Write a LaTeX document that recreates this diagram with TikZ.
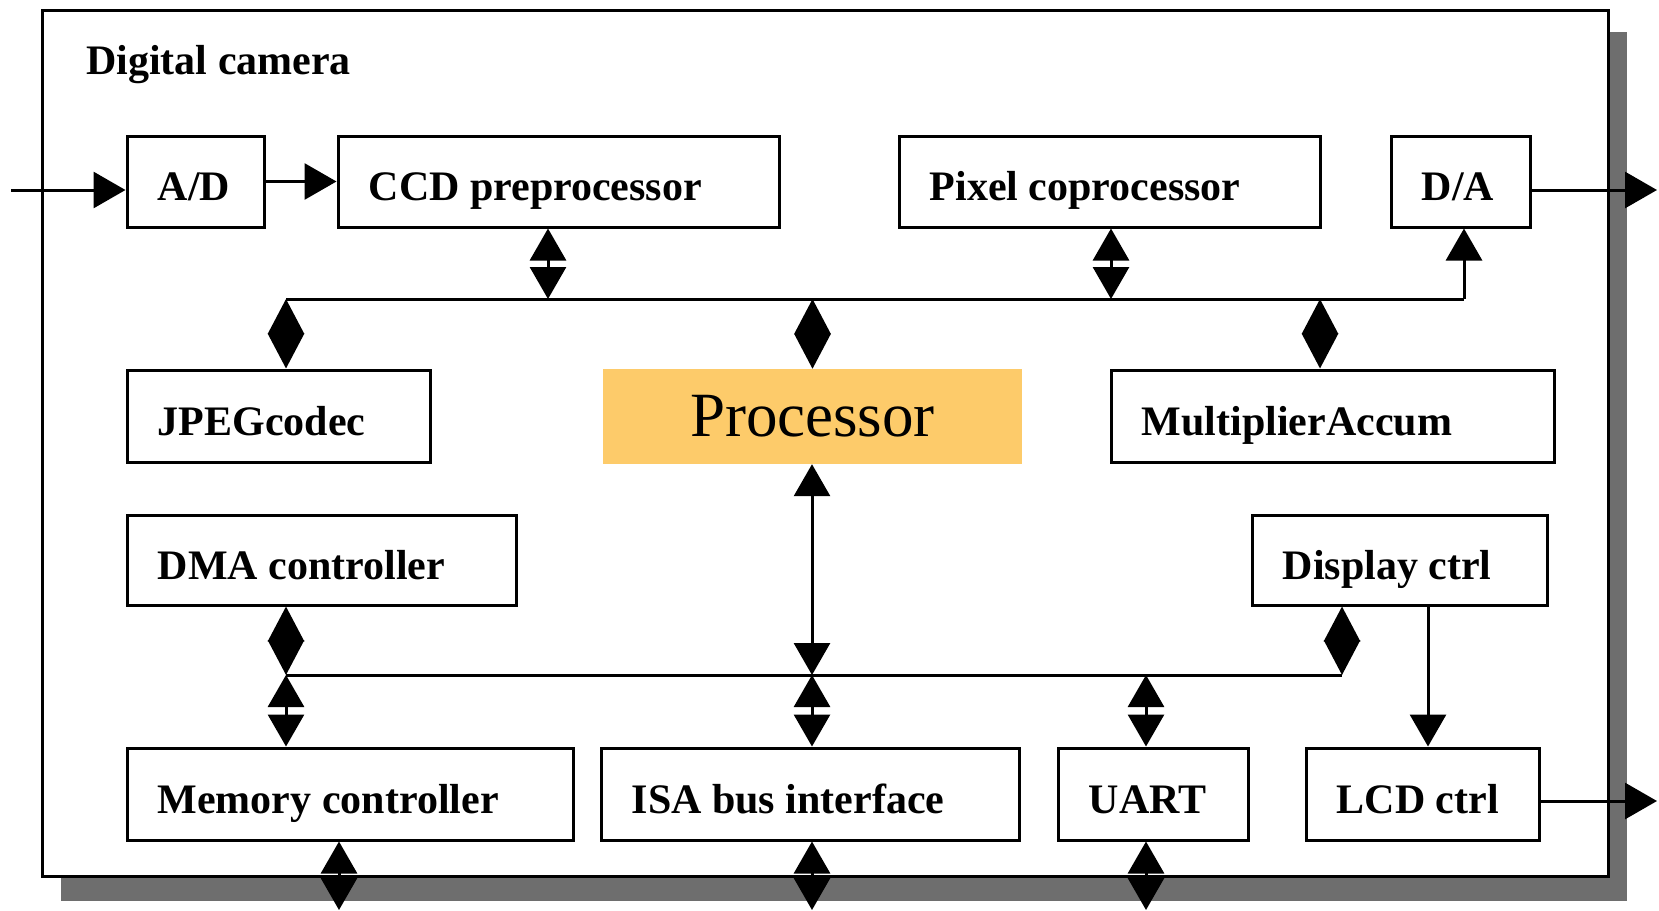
\documentclass[tikz,border=0pt]{standalone}
\usepackage{fontspec}
\setmainfont{Liberation Serif}
\usetikzlibrary{arrows.meta,calc}
\definecolor{procfill}{RGB}{253,203,106}
\definecolor{shadowgray}{RGB}{110,110,110}
\begin{document}
\begin{tikzpicture}[x=1pt,y=-1pt,
  box/.style={draw, line width=3pt, rectangle, inner sep=0pt},
  lbl/.style={anchor=base west, inner sep=0pt, font=\fontsize{42}{48}\selectfont\bfseries},
  wire/.style={line width=3pt},
  dbl/.style={wire, {Triangle[length=32pt,width=36pt]}-{Triangle[length=32pt,width=36pt]}},
  dia/.style={wire, {Triangle[length=35pt,width=36pt]}-{Triangle[length=35pt,width=36pt]}},
  one/.style={wire, -{Triangle[length=32pt,width=36pt]}},
]
\useasboundingbox (0,0) rectangle (1659,910);
% frame with drop shadow
\fill[shadowgray] (61,32) rectangle (1627,901);
\draw[line width=3pt, fill=white] (42,10) rectangle (1608,876);
\node[lbl] (title) at (86,74) {Digital camera};

% boxes
\node[box, minimum width=137pt, minimum height=91pt] (ad)   at (195.5,181.5) {};
\node[box, minimum width=441pt, minimum height=91pt] (ccd)  at (558.5,181.5) {};
\node[box, minimum width=421pt, minimum height=91pt] (pix)  at (1109.5,181.5) {};
\node[box, minimum width=139pt, minimum height=91pt] (da)   at (1460.5,181.5) {};
\node[box, minimum width=303pt, minimum height=92pt] (jpeg) at (278.5,416) {};
\node[fill=procfill, inner sep=0pt, minimum width=419pt, minimum height=95pt,
      font=\fontsize{63}{70}\selectfont] (proc) at (812.5,416.5) {Processor};
\node[box, minimum width=443pt, minimum height=92pt] (ma)   at (1332.5,416) {};
\node[box, minimum width=389pt, minimum height=90pt] (dma)  at (321.5,560) {};
\node[box, minimum width=295pt, minimum height=90pt] (disp) at (1399.5,560) {};
\node[box, minimum width=446pt, minimum height=92pt] (mem)  at (350,794) {};
\node[box, minimum width=418pt, minimum height=92pt] (isa)  at (810,794) {};
\node[box, minimum width=190pt, minimum height=92pt] (uart) at (1153,794) {};
\node[box, minimum width=233pt, minimum height=92pt] (lcd)  at (1422.5,794) {};

% labels
\node[lbl] (tad)   at ([shift={(32,19)}]ad.west)   {A/D};
\node[lbl] (tccd)  at ([shift={(32,19)}]ccd.west)  {CCD preprocessor};
\node[lbl] (tpix)  at ([shift={(32,19)}]pix.west)  {Pixel coprocessor};
\node[lbl] (tda)   at ([shift={(32,19)}]da.west)   {D/A};
\node[lbl] (tjpeg) at ([shift={(32,19)}]jpeg.west) {JPEGcodec};
\node[lbl] (tma)   at ([shift={(32,19)}]ma.west)   {MultiplierAccum};
\node[lbl] (tdma)  at ([shift={(32,19)}]dma.west)  {DMA controller};
\node[lbl] (tdisp) at ([shift={(32,19)}]disp.west) {Display ctrl};
\node[lbl] (tmem)  at ([shift={(32,19)}]mem.west)  {Memory controller};
\node[lbl] (tisa)  at ([shift={(32,19)}]isa.west)  {ISA bus interface};
\node[lbl] (tuart) at ([shift={(32,19)}]uart.west) {UART};
\node[lbl] (tlcd)  at ([shift={(32,19)}]lcd.west)  {LCD ctrl};

% external in/out
\coordinate (in) at (11,190);
\draw[one] (in) -- (in -| ad.west);
\draw[one] (ad.east) -- (ccd.west);
\coordinate (o1) at (1657,190);
\draw[one] (o1 -| da.east) -- (o1);
\coordinate (o2) at (1657,801);
\draw[one] (o2 -| lcd.east) -- (o2);

% upper bus
\coordinate (bl) at (286,299);
\coordinate (br) at (1464,299);
\draw[wire] (bl) -- (br);
\draw[one] (br) -- (br |- da.south);
\draw[dia] (bl) -- (bl |- jpeg.north);
\coordinate (kccd) at (548,299);
\draw[dbl] (kccd |- ccd.south) -- (kccd);
\coordinate (kpix) at (1111,299);
\draw[dbl] (kpix |- pix.south) -- (kpix);
\draw[dia] (proc.north |- bl) -- (proc.north);
\coordinate (kma) at (1320,299);
\draw[dia] (kma) -- (kma |- ma.north);

% lower bus
\coordinate (ll) at (286,675);
\coordinate (lr) at (1342,675);
\draw[wire] (ll) -- (lr);
\draw[dia] (ll |- dma.south) -- (ll);
\draw[dbl] (ll) -- (ll |- mem.north);
\draw[dia] (lr |- disp.south) -- (lr);
\coordinate (kp) at (812,675);
\draw[dbl] (kp |- proc.south) -- (kp);
\draw[dbl] (kp) -- (kp |- isa.north);
\coordinate (ku) at (1146,675);
\draw[dbl] (ku) -- (ku |- uart.north);
\coordinate (kl) at (1428,605);
\draw[one] (kl |- disp.south) -- (kl |- lcd.north);

% bottom outputs
\coordinate (b1) at (339,910);
\draw[dbl] (b1 |- mem.south) -- (b1);
\coordinate (b2) at (812,910);
\draw[dbl] (b2 |- isa.south) -- (b2);
\coordinate (b3) at (1146,910);
\draw[dbl] (b3 |- uart.south) -- (b3);
\end{tikzpicture}
\end{document}
